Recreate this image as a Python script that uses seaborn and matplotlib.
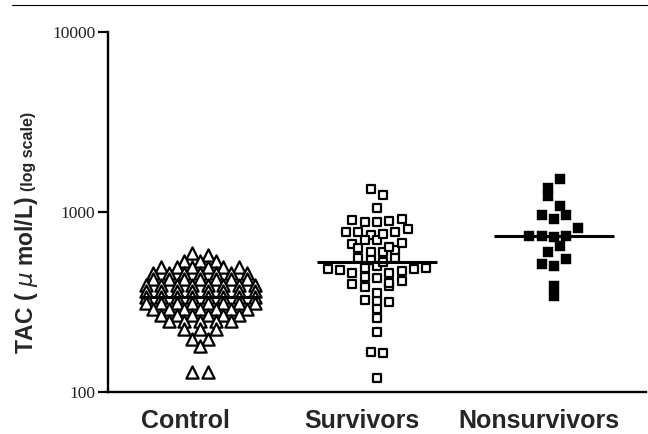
import numpy as np
import pandas as pd
import matplotlib
matplotlib.use("Agg")
import matplotlib.pyplot as plt
import seaborn as sns
from matplotlib.lines import Line2D
from matplotlib.ticker import FixedLocator, NullLocator
from matplotlib.transforms import ScaledTranslation

# DATA (umol/L)
groups = ["Control", "Survivors", "Nonsurvivors"]

control = [592, 577,
           534, 534, 534,
           495, 495, 495, 495, 495, 495,
           458, 458, 458, 458, 458, 458, 458,
           424, 424, 424, 424, 424, 424, 424,
           393, 393, 393, 393, 393, 393, 393, 393,
           364, 364, 364, 364, 364, 364, 364, 364,
           337, 337, 337, 337, 337, 337, 337, 337,
           312, 312, 312, 312, 312, 312, 312, 312,
           289, 289, 289, 289, 289, 289, 289,
           268, 268, 268, 268, 268, 268,
           248, 248, 248, 248, 248,
           224, 224, 224,
           197, 197, 180,
           129, 129]

# listed roughly column by column, left to right
survivors = [482,
             774, 664, 476,
             903, 774, 631, 555, 458, 398, 325,
             1342, 880, 745, 599, 541, 489, 435, 383, 320, 167,
             1243, 1053, 880, 699, 599, 501, 430, 355, 289, 215, 165, 120,
             891, 699, 615, 527, 458, 388, 316, 258,
             914, 755, 639, 555, 470, 403,
             774, 672, 482, 414,
             805, 489]

nonsurvivors = [736, 1227, 962, 736, 514,
                1360, 1080, 914, 726, 599, 501, 341,
                1525, 962, 736, 647, 548, 388,
                815]

values = {"Control": control, "Survivors": survivors, "Nonsurvivors": nonsurvivors}


def column_scatter(vals, row_h, step):
    """Prism-like column scatter: points within row_h (decades) share a row
    and are placed side by side, centred on the column."""
    logv = np.log10(np.asarray(vals, dtype=float))
    order = np.argsort(-logv, kind="stable")
    off = np.zeros(len(vals))
    row = [order[0]]
    rows = []
    for i in order[1:]:
        if logv[row[0]] - logv[i] <= row_h:
            row.append(i)
        else:
            rows.append(row)
            row = [i]
    rows.append(row)
    for r in rows:
        r = sorted(r)  # keep listing order left to right
        n = len(r)
        off[r] = (np.arange(n) - (n - 1) / 2) * step
    return off


row_h = {"Control": 0.015, "Survivors": 0.039, "Nonsurvivors": 0.056}
step = {"Control": 0.088, "Survivors": 0.0695, "Nonsurvivors": 0.069}

frames = []
for i, g in enumerate(groups):
    frames.append(pd.DataFrame({
        "group": g,
        "tac": values[g],
        "pos": i + column_scatter(values[g], row_h[g], step[g]),
    }))
df = pd.concat(frames, ignore_index=True)

sns.set_style("ticks")
fig = plt.figure(figsize=(6.48, 4.34), dpi=100)
ax = fig.add_axes([0.1667, 0.0968, 0.830, 0.8294])
ax.set_yscale("log")

styles = {
    "Control": dict(marker="^", s=8.8 ** 2, color="white", edgecolor="black", linewidth=1.6),
    "Survivors": dict(marker="s", s=6.3 ** 2, color="white", edgecolor="black", linewidth=1.6),
    "Nonsurvivors": dict(marker="s", s=6.6 ** 2, color="black", edgecolor="black", linewidth=0.3),
}
for g in groups:
    sns.scatterplot(data=df[df.group == g], x="pos", y="tac", ax=ax, zorder=2,
                    legend=False, **styles[g])

# median lines
for i, g in enumerate(groups):
    ax.hlines(np.median(values[g]), i - 0.34, i + 0.34, color="black", lw=2.2, zorder=3)

ax.set_ylim(100, 10000)
ax.set_xlim(-0.52, 2.52)
ax.yaxis.set_major_locator(FixedLocator([100, 1000, 10000]))
ax.yaxis.set_minor_locator(NullLocator())
ax.set_yticklabels(["100", "1000", "10000"], family="Liberation Serif",
                   fontsize=12.5, color="#222222")
ax.set_xticks(range(len(groups)))
ax.set_xticklabels(groups, family="Liberation Sans", fontweight="bold", fontsize=18)
ax.tick_params(axis="y", length=7, width=1.6, pad=2, color="black")
ax.tick_params(axis="x", length=0, pad=12)
for lab in ax.get_xticklabels():
    lab.set_transform(lab.get_transform() + ScaledTranslation(-0.15, 0, fig.dpi_scale_trans))

ax.set_xlabel("")
ax.set_ylabel("")
sns.despine(ax=ax)
for s in ["left", "bottom"]:
    ax.spines[s].set_linewidth(1.7)
    ax.spines[s].set_color("black")

# y label: big part + small "(log scale)" on same baseline
fig.text(33 / 648, 1 - 354 / 434, "TAC ( $\\mu$ mol/L)", rotation=90, rotation_mode="anchor",
         ha="left", va="baseline", family="Liberation Sans", fontweight="bold", fontsize=16.5)
fig.text(33 / 648, 1 - 191 / 434, "(log scale)", rotation=90, rotation_mode="anchor",
         ha="left", va="baseline", family="Liberation Sans", fontweight="bold", fontsize=11.5)

# page rule at the top
fig.add_artist(Line2D([12 / 648, 1], [1 - 4.5 / 434] * 2, transform=fig.transFigure,
                      color="black", lw=0.8))

fig.savefig("out.png", dpi=100)
